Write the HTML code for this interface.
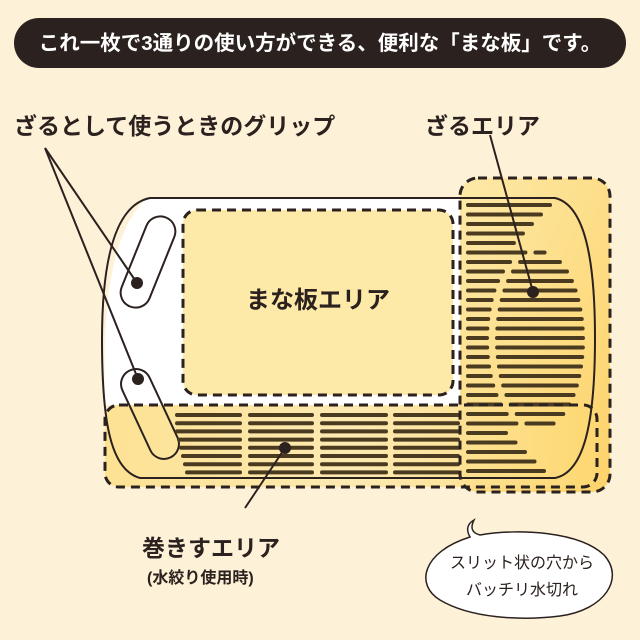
<!DOCTYPE html>
<html><head><meta charset="utf-8">
<style>
html,body{margin:0;padding:0;background:#fdf1d8;}
svg{display:block;font-family:"Liberation Sans","Noto Sans CJK JP",sans-serif;}
</style></head>
<body>
<svg id="s" width="640" height="640" viewBox="0 0 640 640" xmlns="http://www.w3.org/2000/svg">
<defs>
<linearGradient id="gz" x1="0" y1="0" x2="1" y2="1">
<stop offset="0" stop-color="#fde9a8"/><stop offset="1" stop-color="#fdd36a"/>
</linearGradient>
<linearGradient id="gm" x1="0" y1="0" x2="1" y2="0">
<stop offset="0" stop-color="#fde08c"/><stop offset="0.5" stop-color="#fde9ae"/><stop offset="1" stop-color="#fdd872"/>
</linearGradient>
</defs>
<rect width="640" height="640" fill="#fdf1d8"/>
<rect x="14" y="18" width="612" height="50" rx="25" fill="#2b211e"/>
<text x="320" y="50" text-anchor="middle" font-size="20.5" font-weight="bold" fill="#fff">これ一枚で3通りの使い方ができる、便利な「まな板」です。</text>

<text x="14" y="134" font-size="23" font-weight="bold" fill="#2b211e">ざるとして使うときのグリップ</text>
<text x="425" y="134" font-size="23" font-weight="bold" fill="#2b211e">ざるエリア</text>

<rect x="460" y="178" width="150" height="314" rx="18" fill="url(#gz)"/>
<rect x="105" y="405" width="492" height="82" rx="14" fill="url(#gm)" opacity="0.9"/>

<path d="M147 198 L460 198 L460 405 L105 405 C102 300 112 230 147 198 Z" fill="#fff"/>
<path d="M150 198 L555 198 C585 205 595 260 595 338 C595 420 585 472 555 478 L140 478 C110 470 102 420 102 340 C102 260 115 205 150 198 Z" fill="none" stroke="#2b211e" stroke-width="2"/>

<rect x="183" y="210" width="270" height="185" rx="14" fill="#fde9a8" stroke="#2b211e" stroke-width="3" stroke-dasharray="9 6"/>
<text x="318" y="308" text-anchor="middle" font-size="24" font-weight="bold" fill="#2b211e">まな板エリア</text>

<rect x="-15" y="-48" width="30" height="96" rx="15" fill="#fff" stroke="#2b211e" stroke-width="2" transform="translate(148,262) rotate(22)"/>
<rect x="-15" y="-48" width="30" height="96" rx="15" fill="none" stroke="#2b211e" stroke-width="2" transform="translate(150,414) rotate(-25)"/>

<g id="slits" stroke="#4a3a20" stroke-width="4" stroke-linecap="round"></g>

<rect x="460" y="178" width="150" height="314" rx="18" fill="none" stroke="#2b211e" stroke-width="3" stroke-dasharray="9 6"/>
<rect x="105" y="405" width="492" height="82" rx="14" fill="none" stroke="#2b211e" stroke-width="3" stroke-dasharray="9 6"/>

<g stroke="#2b211e" stroke-width="2">
<line x1="45" y1="148" x2="137" y2="283"/>
<line x1="45" y1="148" x2="138" y2="379"/>
<line x1="490" y1="135" x2="533" y2="292"/>
<line x1="285" y1="448" x2="245" y2="508"/>
</g>
<g fill="#2b211e">
<circle cx="137" cy="283" r="6"/><circle cx="138" cy="379" r="6"/>
<circle cx="533" cy="292" r="6"/><circle cx="285" cy="448" r="6"/>
</g>

<text x="142" y="556" font-size="23" font-weight="bold" fill="#2b211e">巻きすエリア</text>
<text x="147" y="583" font-size="16" font-weight="bold" fill="#2b211e">(水絞り使用時)</text>

<path d="M470 537 C466 530 467 524 474 520 C470 528 472 533 480 535 C520 528 580 532 604 555 C625 578 605 610 560 616 C520 621 470 618 440 600 C415 585 422 552 470 537 Z" fill="#fff" stroke="#2b211e" stroke-width="1.5"/>
<text x="522" y="568" text-anchor="middle" font-size="16" fill="#2b211e">スリット状の穴から</text>
<text x="522" y="595" text-anchor="middle" font-size="16" fill="#2b211e">バッチリ水切れ</text>
</svg>
<script>
(function(){
var g=document.getElementById('slits'),out='';
function L(a,b,y){if(b-a>3)out+='<line x1="'+a+'" y1="'+y+'" x2="'+b+'" y2="'+y+'"/>';}
var cols=[[177,240],[250,312],[322,386],[395,458]];
for(var i=0;i<8;i++){var y=415+i*8.2;
 for(var c=0;c<cols.length;c++){var a=cols[c][0]+(c==0?Math.max(0,i-2)*2:0);L(a,cols[c][1],y);}}
var cx=540,cy=340,rx=43,ry=88;
for(var j=0;j<29;j++){var y=205+j*9.5;var end;
 var dy=(y-cy)/ry;
 if(Math.abs(dy)<1){var w=rx*Math.sqrt(1-dy*dy);var l=cx-w,r=cx+w;end=l-10;
  if(y<252+20){end=Math.max(end,550-(y-205)*0.9);}
  L(468,Math.min(end,l-8),y);L(l,r,y);}
 else if(y<cy){end=550-(y-205)*0.95;L(468,end,y);}
 else{end=500+(y-427)*1.0;L(468,Math.min(end,552),y);}
}
g.innerHTML=out;
})();
</script>
</body></html>
